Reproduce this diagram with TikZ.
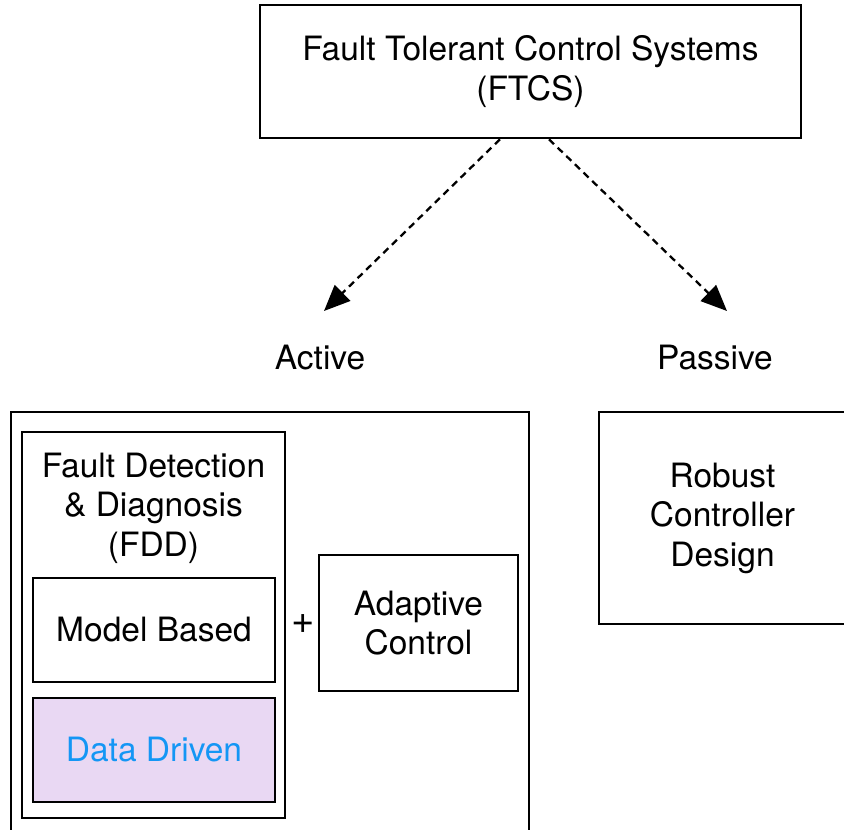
\documentclass[tikz,border=0pt]{standalone}
\usepackage{fontspec}
\setmainfont{TeX Gyre Heros}
\usetikzlibrary{arrows.meta}
\definecolor{ddfill}{RGB}{233,216,243}
\definecolor{ddtext}{RGB}{20,150,245}
\tikzset{
  box/.style={draw=black, line width=2.6pt, rectangle, inner sep=0pt, align=center, font=\fontsize{33.5}{39.5}\selectfont},
  lbl/.style={inner sep=0pt, align=center, font=\fontsize{33.5}{39.5}\selectfont},
  conn/.style={line width=2.3pt, dash pattern=on 7pt off 5pt, -{Triangle[length=26pt,width=22pt]}}
}
\begin{document}
\begin{tikzpicture}[x=1pt,y=-1pt]
\clip (0,0) rectangle (844,830);
\fill[white] (0,0) rectangle (844,830);
% top
\node[box, minimum width=541pt, minimum height=133pt] (ftcs) at (530.5,71.5) {Fault Tolerant Control Systems\\(FTCS)};
\node[lbl] (active) at (320,358) {Active};
\node[lbl] (passive) at (715,358) {Passive};
\coordinate (aend) at (324,311);
\coordinate (pend) at (727,311);
\draw[conn] ([xshift=-30.5pt]ftcs.south) -- (aend);
\draw[conn] ([xshift=18.5pt]ftcs.south) -- (pend);
% active container
\node[box, minimum width=518pt, minimum height=440pt] (activebox) at (270,632) {};
\node[box, minimum width=263pt, minimum height=386pt] (fdd) at (153.5,625) {};
\node[lbl] (fddlabel) at (153.5,508) {Fault Detection\\\& Diagnosis\\(FDD)};
\node[box, minimum width=242pt, minimum height=104pt] (model) at (154,630) {Model Based};
\node[box, fill=ddfill, text=ddtext, minimum width=242pt, minimum height=104pt] (data) at (154,750) {Data Driven};
\node[lbl, font=\fontsize{40}{40}\selectfont] (plus) at (303,624) {+};
\node[box, minimum width=199pt, minimum height=136pt] (adaptive) at (418.5,623) {Adaptive\\Control};
% passive
\node[box, minimum width=247pt, minimum height=212pt] (robust) at (722.5,518) {Robust\\Controller\\Design};
\end{tikzpicture}
\end{document}
